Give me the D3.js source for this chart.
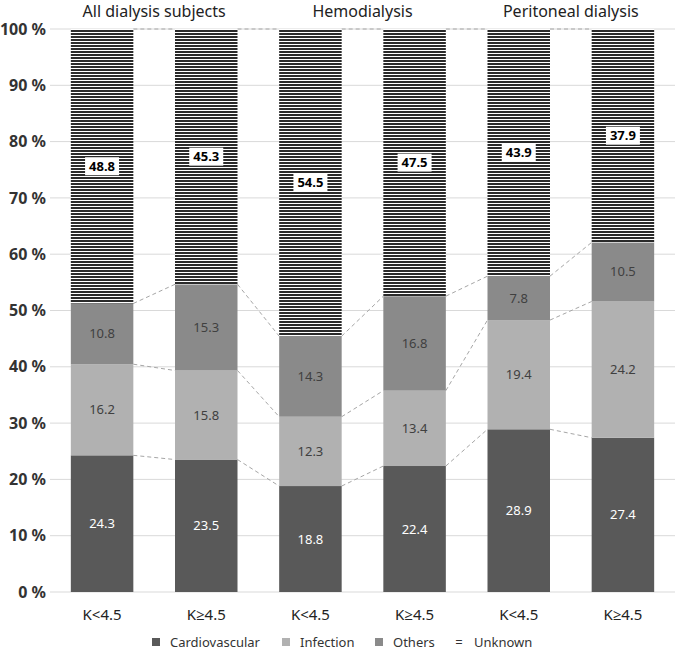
<!DOCTYPE html>
<html><head><meta charset="utf-8">
<script src="https://cdn.jsdelivr.net/npm/d3@7"></script>
<style>body{margin:0;background:#fff;} svg{display:block;font-family:"Noto Sans","Open Sans",sans-serif;}</style>
</head><body>
<svg id="c" width="675" height="652"></svg>
<script>
const categories = ["K<4.5","K\u22654.5","K<4.5","K\u22654.5","K<4.5","K\u22654.5"];
const groups = ["All dialysis subjects","Hemodialysis","Peritoneal dialysis"];
const seriesNames = ["Cardiovascular","Infection","Others","Unknown"];
const cardiovascular = [24.3,23.5,18.8,22.4,28.9,27.4];
const infection = [16.2,15.8,12.3,13.4,19.4,24.2];
const others = [10.8,15.3,14.3,16.8,7.8,10.5];
const unknown = [48.8,45.3,54.5,47.5,43.9,37.9];
const yTicks = [0,10,20,30,40,50,60,70,80,90,100];

const colors = ["#595959","#b1b1b1","#8a8a8a","url(#stripes)"];
const labelColors = ["#ffffff","#404040","#404040","#000"];

const svg = d3.select("#c");
const defs = svg.append("defs");
const pat = defs.append("pattern").attr("id","stripes").attr("patternUnits","userSpaceOnUse")
  .attr("width",8).attr("height",3);
pat.append("rect").attr("width",8).attr("height",3).attr("fill","#fff");
pat.append("rect").attr("width",8).attr("height",2).attr("fill","#2a2a2a");

const L=50,R=675,T=29,B=592;
const x = d3.scaleBand().domain(d3.range(categories.length)).range([L,R]).paddingInner(0.4).paddingOuter(0.2);
const y = d3.scaleLinear().domain([0,1]).range([B,T]);

const rows = categories.map((c,i)=>({i, Cardiovascular:cardiovascular[i], Infection:infection[i], Others:others[i], Unknown:unknown[i]}));
const stack = d3.stack().keys(seriesNames).offset(d3.stackOffsetExpand);
const stacked = stack(rows);

// grid
svg.append("g").selectAll("line").data(yTicks).join("line")
  .attr("x1",L).attr("x2",R).attr("y1",d=>y(d/100)).attr("y2",d=>y(d/100))
  .attr("stroke","#d9d9d9").attr("stroke-width",1);

// y labels
svg.append("g").selectAll("text").data(yTicks).join("text")
  .attr("x",46).attr("y",d=>y(d/100)).attr("dy","0.35em").attr("text-anchor","end")
  .attr("font-size",16).attr("font-weight","bold").attr("fill","#333")
  .text(d=>d+" %");

// connectors
const conn = svg.append("g");
stacked.forEach(s=>{
  for(let i=0;i<categories.length-1;i++){
    conn.append("line")
      .attr("x1",x(i)+x.bandwidth()).attr("y1",y(s[i][1]))
      .attr("x2",x(i+1)).attr("y2",y(s[i+1][1]))
      .attr("stroke","#a6a6a6").attr("stroke-width",1).attr("stroke-dasharray","4,3");
  }
});

// bars
stacked.forEach((s,k)=>{
  svg.append("g").selectAll("rect").data(s).join("rect")
    .attr("x",d=>x(d.data.i)).attr("width",x.bandwidth())
    .attr("y",d=>y(d[1])).attr("height",d=>y(d[0])-y(d[1]))
    .attr("fill",colors[k]);
});

// labels
stacked.forEach((s,k)=>{
  const g = svg.append("g");
  s.forEach(d=>{
    const cx = x(d.data.i)+x.bandwidth()/2, cy = y((d[0]+d[1])/2);
    const v = d.data[seriesNames[k]];
    if(k===3){
      g.append("rect").attr("x",cx-17).attr("y",cy-9).attr("width",34).attr("height",18).attr("fill","#fff");
      g.append("text").attr("x",cx).attr("y",cy).attr("dy","0.35em").attr("text-anchor","middle")
        .attr("font-size",13).attr("font-weight","bold").attr("fill","#000").text(v.toFixed(1));
    } else {
      g.append("text").attr("x",cx).attr("y",cy).attr("dy","0.35em").attr("text-anchor","middle")
        .attr("font-size",13).attr("fill",labelColors[k]).text(v.toFixed(1));
    }
  });
});

// category labels
svg.append("g").selectAll("text").data(categories).join("text")
  .attr("x",(d,i)=>x(i)+x.bandwidth()/2).attr("y",615).attr("dy","0.35em").attr("text-anchor","middle")
  .attr("font-size",15).attr("fill","#222").text(d=>d);

// group titles
svg.append("g").selectAll("text").data(groups).join("text")
  .attr("x",(d,i)=>(x(2*i)+x(2*i+1)+x.bandwidth())/2).attr("y",11).attr("dy","0.35em").attr("text-anchor","middle")
  .attr("font-size",16).attr("fill","#222").text(d=>d);

// legend
const legX = [152,282,375,455];
const legY = 642;
const lg = svg.append("g");
seriesNames.forEach((n,k)=>{
  if(k<3){
    lg.append("rect").attr("x",legX[k]).attr("y",legY-4).attr("width",8).attr("height",8).attr("fill",colors[k]);
    lg.append("text").attr("x",legX[k]+18).attr("y",legY).attr("dy","0.35em").attr("font-size",13).attr("fill","#333").text(n);
  } else {
    lg.append("text").attr("x",legX[k]+4).attr("y",legY).attr("dy","0.35em").attr("text-anchor","middle").attr("font-size",13).attr("fill","#333").text("=");
    lg.append("text").attr("x",legX[k]+19).attr("y",legY).attr("dy","0.35em").attr("font-size",13).attr("fill","#333").text(n);
  }
});
</script>
</body></html>
